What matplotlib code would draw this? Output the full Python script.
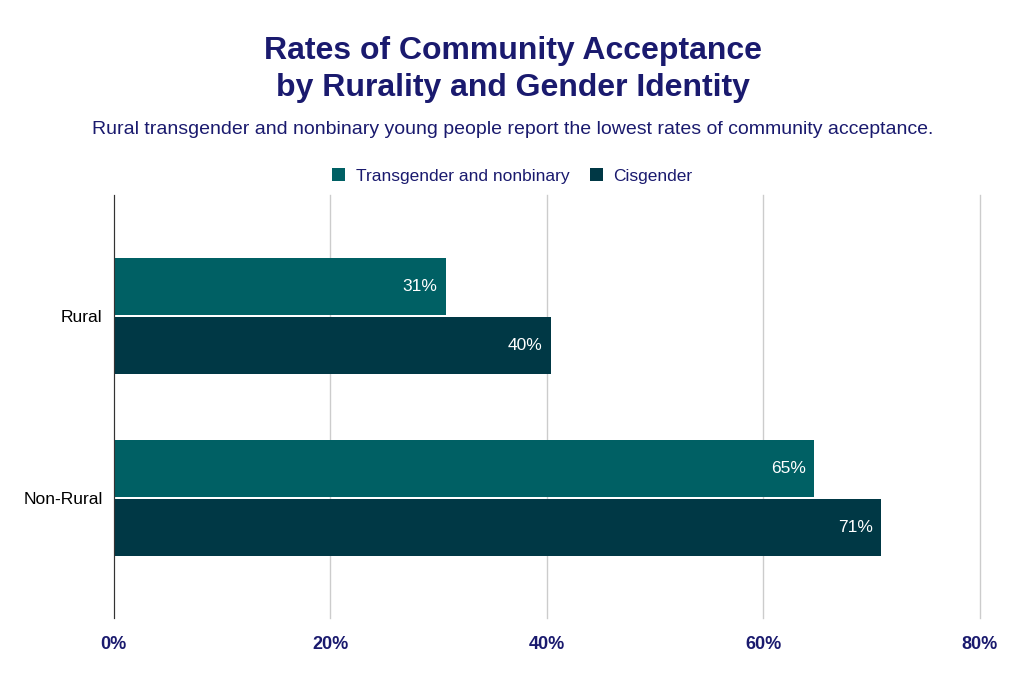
import numpy as np
import matplotlib.pyplot as plt

# Datos -------------------------------------------------------------------
categorias = ["Rural", "Non-Rural"]
series = ["Transgender and nonbinary", "Cisgender"]
trans_nb = [30.7, 64.7]
cisgender = [40.4, 70.9]
etiquetas_trans = ["31%", "65%"]
etiquetas_cis = ["40%", "71%"]
ticks_x = [0, 20, 40, 60, 80]

color_trans = "#006064"
color_cis = "#003845"
navy = "#1a1a6e"

plt.rcParams['font.family'] = ['Liberation Sans', 'DejaVu Sans']

fig = plt.figure(figsize=(10.25, 6.82), dpi=100)
ax = fig.add_axes([0.111, 0.094, 0.845, 0.62])

y = np.arange(len(categorias))
h = 0.313
gap = 0.006
b1 = ax.barh(y - h / 2 - gap, trans_nb, height=h, color=color_trans, label=series[0])
b2 = ax.barh(y + h / 2 + gap, cisgender, height=h, color=color_cis, label=series[1])

for bar, txt in zip(b1, etiquetas_trans):
    ax.text(bar.get_width() - 0.8, bar.get_y() + bar.get_height() / 2, txt,
            ha='right', va='center', color='white', fontsize=12.5)
for bar, txt in zip(b2, etiquetas_cis):
    ax.text(bar.get_width() - 0.8, bar.get_y() + bar.get_height() / 2, txt,
            ha='right', va='center', color='white', fontsize=12.5)

ax.set_xlim(0, 80)
ax.set_ylim(1.66, -0.665)
ax.set_xticks(ticks_x)
ax.set_xticklabels([f"{t}%" for t in ticks_x], color=navy, fontweight='bold', fontsize=13)
ax.set_yticks(y)
ax.set_yticklabels(categorias, fontsize=12.5, color='black')
ax.tick_params(length=0, pad=8)
ax.tick_params(axis='x', pad=13)
ax.xaxis.grid(True, color='#cccccc', linewidth=1)
for gl in ax.get_xgridlines():
    gl.set_clip_on(False)
ax.set_axisbelow(True)
for s in ['top', 'right', 'bottom']:
    ax.spines[s].set_visible(False)
ax.spines['left'].set_color('#333333')

fig.text(0.5, 0.898, "Rates of Community Acceptance\nby Rurality and Gender Identity",
         ha='center', va='center', fontsize=23, fontweight='bold', color=navy, linespacing=1.3)
fig.text(0.5, 0.81, "Rural transgender and nonbinary young people report the lowest rates of community acceptance.",
         ha='center', va='center', fontsize=14, color=navy)

leg = fig.legend(handles=[b1, b2], labels=series, loc='center', bbox_to_anchor=(0.5, 0.742),
                 ncol=2, frameon=False, fontsize=12.5, handlelength=0.75, handleheight=0.75,
                 columnspacing=1.2, handletextpad=0.6)
for t in leg.get_texts():
    t.set_color(navy)

fig.savefig("out.png", dpi=100)
